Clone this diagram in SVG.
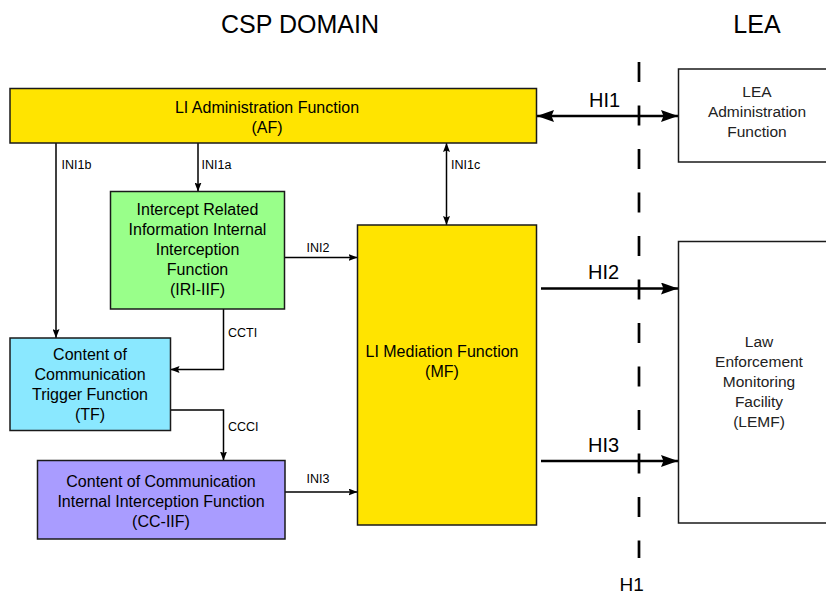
<svg xmlns="http://www.w3.org/2000/svg" width="826" height="594" viewBox="0 0 826 594">
  <defs>
    <!-- small arrowhead for internal interfaces -->
    <marker id="arrowSmall" viewBox="0 0 9 7" refX="9" refY="3.5" markerWidth="9" markerHeight="7" markerUnits="userSpaceOnUse" orient="auto-start-reverse">
      <path d="M0,0 L9,3.5 L0,7 L1.5,3.5 z" fill="#000"/>
    </marker>
    <!-- large arrowhead for handover interfaces -->
    <marker id="arrowLarge" viewBox="0 0 17 12" refX="17" refY="6" markerWidth="17" markerHeight="12" markerUnits="userSpaceOnUse" orient="auto-start-reverse">
      <path d="M0,0 L17,6 L0,12 L2.5,6 z" fill="#000"/>
    </marker>
  </defs>
  <style>
    text { font-family: "Liberation Sans", Arial, Helvetica, sans-serif; fill: #000; }
    .box { stroke: #1a1a1a; stroke-width: 1.5; }
    .yellow { fill: #FFE400; }
    .green { fill: #99FF8A; }
    .cyan { fill: #8AE8FF; }
    .purple { fill: #A99CFF; }
    .white { fill: #FFFFFF; }
    .lbl { font-size: 16px; text-anchor: middle; }
    .lea { font-size: 15.5px; text-anchor: middle; fill: #222; }
    .ini { font-size: 12.5px; }
    .hi { font-size: 20px; }
    .head { font-size: 25px; text-anchor: middle; }
    .conn { fill: none; stroke: #000; stroke-width: 1.5; }
    .conn-s { marker-end: url(#arrowSmall); }
    .hi-line { fill: none; stroke: #000; stroke-width: 2.5; marker-end: url(#arrowLarge); }
    .border { fill: none; stroke: #000; stroke-width: 2.7; stroke-dasharray: 20 23.5; }
  </style>

  <rect x="0" y="0" width="826" height="594" fill="#FFFFFF"/>

  <!-- domain headings -->
  <text class="head" x="300" y="33">CSP DOMAIN</text>
  <text class="head" x="757" y="33">LEA</text>

  <!-- connectors -->
  <g id="connectors">
    <path class="conn conn-s" d="M56,143 V338"/>
    <path class="conn conn-s" d="M198,143 V191.5"/>
    <path class="conn conn-s" d="M446.5,143 V225" marker-start="url(#arrowSmall)"/>
    <path class="conn conn-s" d="M284.5,257.5 H357.5"/>
    <path class="conn conn-s" d="M223.5,309 V369.5 H170.5"/>
    <path class="conn conn-s" d="M170.5,410 H223.5 V460.5"/>
    <path class="conn conn-s" d="M285,492 H357.5"/>
    <path class="hi-line" d="M537,116 H678" marker-start="url(#arrowLarge)"/>
    <path class="hi-line" d="M541,288.5 H678"/>
    <path class="hi-line" d="M541,461 H678"/>
    <!-- handover border H1 -->
    <path class="border" d="M639,62 V558"/>

    <text class="ini" x="61.5" y="169">INI1b</text>
    <text class="ini" x="201.5" y="169">INI1a</text>
    <text class="ini" x="451" y="168.5">INI1c</text>
    <text class="ini" x="306.5" y="252">INI2</text>
    <text class="ini" x="228" y="337">CCTI</text>
    <text class="ini" x="228" y="431">CCCI</text>
    <text class="ini" x="306.5" y="483">INI3</text>
    <text class="hi" x="589" y="106.5">HI1</text>
    <text class="hi" x="588" y="279">HI2</text>
    <text class="hi" x="588" y="452">HI3</text>
    <text class="hi" x="619.5" y="591" style="font-size:19px">H1</text>
  </g>

  <g id="af">
    <rect class="box yellow" x="10" y="88.5" width="526.5" height="54.5"/>
    <text class="lbl" x="267" y="113">LI Administration Function</text>
    <text class="lbl" x="267" y="133">(AF)</text>
  </g>

  <g id="iri-iif">
    <rect class="box green" x="110.5" y="191.5" width="174" height="117.5"/>
    <text class="lbl" x="197.5" y="215">Intercept Related</text>
    <text class="lbl" x="197.5" y="235">Information Internal</text>
    <text class="lbl" x="197.5" y="255">Interception</text>
    <text class="lbl" x="197.5" y="275">Function</text>
    <text class="lbl" x="197.5" y="295">(IRI-IIF)</text>
  </g>

  <g id="mf">
    <rect class="box yellow" x="357.5" y="225" width="179" height="300"/>
    <text class="lbl" x="442" y="357">LI Mediation Function</text>
    <text class="lbl" x="442" y="377">(MF)</text>
  </g>

  <g id="tf">
    <rect class="box cyan" x="10" y="338" width="160.5" height="92.5"/>
    <text class="lbl" x="90" y="360">Content of</text>
    <text class="lbl" x="90" y="380">Communication</text>
    <text class="lbl" x="90" y="400">Trigger Function</text>
    <text class="lbl" x="90" y="420">(TF)</text>
  </g>

  <g id="cc-iif">
    <rect class="box purple" x="37.5" y="460.5" width="247.5" height="78.5"/>
    <text class="lbl" x="161" y="487">Content of Communication</text>
    <text class="lbl" x="161" y="507">Internal Interception Function</text>
    <text class="lbl" x="161" y="527">(CC-IIF)</text>
  </g>

  <g id="lea-af">
    <rect class="box white" x="678.5" y="69" width="160" height="93"/>
    <text class="lea" x="757" y="97">LEA</text>
    <text class="lea" x="757" y="117">Administration</text>
    <text class="lea" x="757" y="137">Function</text>
  </g>

  <g id="lemf">
    <rect class="box white" x="678.5" y="241.5" width="160" height="281.5"/>
    <text class="lea" x="759" y="347">Law</text>
    <text class="lea" x="759" y="367">Enforcement</text>
    <text class="lea" x="759" y="387">Monitoring</text>
    <text class="lea" x="759" y="407">Facility</text>
    <text class="lea" x="759" y="427">(LEMF)</text>
  </g>
</svg>
